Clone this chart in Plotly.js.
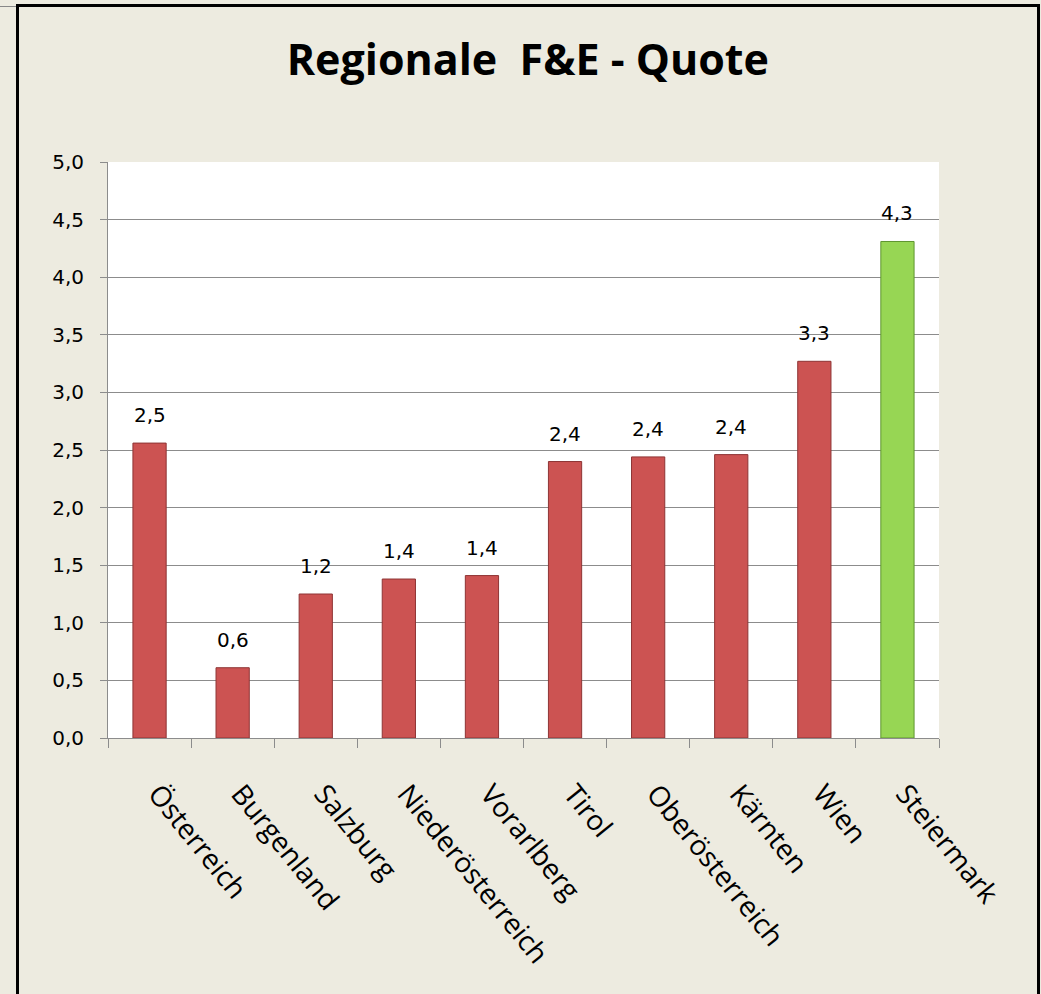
<!DOCTYPE html>
<html>
<head>
<meta charset="utf-8">
<script src="https://cdn.plot.ly/plotly-3.0.1.min.js"></script>
<style>
  html, body { margin: 0; padding: 0; background: #EDEBE0; overflow: hidden; width: 1041px; height: 994px; }
  #chart { position: absolute; left: 0; top: 0; width: 1041px; height: 994px; }
  #frame { position: absolute; left: 16px; top: 4px; width: 1018px; height: 1010px; border: 3px solid #000; pointer-events: none; }
  #tick { position: absolute; left: 0; top: 6px; width: 16px; height: 1px; background: #888; }
</style>
</head>
<body>
<div id="chart"></div>
<div id="frame"></div>
<div id="tick"></div>
<script>
const categories = ["Österreich", "Burgenland", "Salzburg", "Niederösterreich", "Vorarlberg", "Tirol", "Oberösterreich", "Kärnten", "Wien", "Steiermark"];
const values = [2.56, 0.61, 1.25, 1.38, 1.41, 2.40, 2.44, 2.46, 3.27, 4.31];
const labels = ["2,5", "0,6", "1,2", "1,4", "1,4", "2,4", "2,4", "2,4", "3,3", "4,3"];
const yTicks = [0, 0.5, 1, 1.5, 2, 2.5, 3, 3.5, 4, 4.5, 5];

const fillColors = categories.map(c => c === "Steiermark" ? "#97D654" : "#CC5352");
const lineColors = categories.map(c => c === "Steiermark" ? "#5F9530" : "#8E3434");

const trace = {
  type: "bar",
  x: categories,
  y: values,
  width: 0.4,
  marker: { color: fillColors, line: { color: lineColors, width: 1 } },
  hoverinfo: "none"
};

const annotations = categories.map((c, i) => ({
  x: c, y: values[i], xref: "x", yref: "y",
  text: labels[i], showarrow: false,
  yanchor: "bottom", yshift: 14,
  font: { family: "DejaVu Sans", size: 20, color: "#000" }
}));

const layout = {
  width: 1041, height: 994,
  margin: { l: 108, r: 102, t: 162, b: 256 },
  paper_bgcolor: "#EDEBE0",
  plot_bgcolor: "#FFFFFF",
  separators: ",.",
  showlegend: false,
  title: {
    text: "Regionale&nbsp;&nbsp;F&amp;E - Quote",
    font: { family: "Open Sans", size: 43, color: "#000", weight: "bold" },
    x: 0.507, xanchor: "center", y: 0.94, yanchor: "middle"
  },
  xaxis: {
    type: "category",
    showline: true, linecolor: "#8C8C8C", linewidth: 1,
    ticks: "outside", tickson: "boundaries", ticklen: 9, tickcolor: "#8C8C8C",
    tickangle: 51,
    tickfont: { family: "Open Sans", size: 28, color: "#000" },
    ticklabelstandoff: 27,
    ticklabelshift: 8,
    showgrid: false, fixedrange: true
  },
  yaxis: {
    range: [0, 5],
    tickvals: yTicks,
    tickformat: ".1f",
    showline: true, linecolor: "#8C8C8C", linewidth: 1,
    ticks: "outside", ticklen: 7, tickcolor: "#8C8C8C",
    showgrid: true, gridcolor: "#8C8C8C", gridwidth: 1,
    zeroline: false,
    tickfont: { family: "DejaVu Sans", size: 20, color: "#000" },
    ticklabelstandoff: 12,
    fixedrange: true
  },
  annotations: annotations
};

Plotly.newPlot("chart", [trace], layout, { displayModeBar: false, staticPlot: true });
</script>
</body>
</html>
